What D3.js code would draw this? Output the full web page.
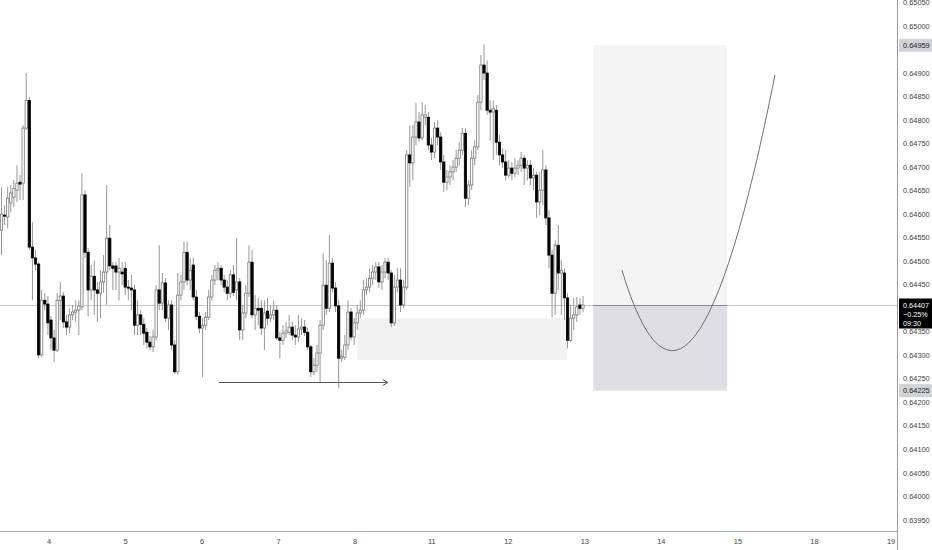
<!DOCTYPE html>
<html><head><meta charset="utf-8">
<script src="https://cdn.jsdelivr.net/npm/d3@7"></script>
<style>body{margin:0;background:#fff}svg{display:block}text{font-family:"Liberation Sans",Arial,sans-serif}</style>
</head><body><svg id="c" width="932" height="550"></svg>
<script>
const dayLabels = ["4","5","6","7","8","11","12","13","14","15","18","19"];
const priceTicks = [0.63950,0.64000,0.64050,0.64100,0.64150,0.64200,0.64250,0.64300,0.64350,0.64400,0.64450,0.64500,0.64550,0.64600,0.64650,0.64700,0.64750,0.64800,0.64850,0.64900,0.64950,0.65000,0.65050];
const opens = [0.64566,0.64598,0.64594,0.64624,0.64636,0.64651,0.64668,0.64666,0.64783,0.64842,0.64530,0.64507,0.64494,0.64301,0.64417,0.64409,0.64375,0.64337,0.64311,0.64417,0.64426,0.64371,0.64360,0.64386,0.64392,0.64396,0.64403,0.64641,0.64519,0.64439,0.64468,0.64439,0.64432,0.64456,0.64477,0.64549,0.64490,0.64490,0.64477,0.64477,0.64485,0.64445,0.64443,0.64439,0.64364,0.64386,0.64366,0.64349,0.64328,0.64318,0.64339,0.64439,0.64411,0.64454,0.64379,0.64407,0.64322,0.64265,0.64428,0.64456,0.64519,0.64460,0.64492,0.64424,0.64383,0.64358,0.64364,0.64381,0.64424,0.64460,0.64481,0.64485,0.64460,0.64445,0.64432,0.64471,0.64439,0.64456,0.64354,0.64390,0.64432,0.64498,0.64386,0.64400,0.64400,0.64358,0.64394,0.64379,0.64386,0.64396,0.64337,0.64332,0.64347,0.64349,0.64360,0.64343,0.64339,0.64356,0.64360,0.64349,0.64318,0.64265,0.64279,0.64305,0.64364,0.64449,0.64400,0.64496,0.64443,0.64405,0.64294,0.64296,0.64322,0.64392,0.64339,0.64369,0.64390,0.64396,0.64439,0.64445,0.64464,0.64477,0.64488,0.64456,0.64477,0.64498,0.64475,0.64369,0.64445,0.64460,0.64407,0.64445,0.64726,0.64709,0.64764,0.64796,0.64762,0.64806,0.64806,0.64747,0.64732,0.64783,0.64764,0.64711,0.64668,0.64679,0.64690,0.64700,0.64719,0.64736,0.64772,0.64634,0.64662,0.64719,0.64743,0.64838,0.64917,0.64900,0.64821,0.64817,0.64821,0.64753,0.64726,0.64711,0.64683,0.64698,0.64687,0.64698,0.64704,0.64719,0.64698,0.64704,0.64677,0.64683,0.64626,0.64651,0.64694,0.64592,0.64513,0.64432,0.64534,0.64475,0.64475,0.64422,0.64332,0.64379,0.64386,0.64407,0.64400];
const highs = [0.64658,0.64619,0.64658,0.64662,0.64672,0.64704,0.64683,0.64789,0.64900,0.64849,0.64583,0.64524,0.64498,0.64439,0.64432,0.64426,0.64383,0.64354,0.64432,0.64456,0.64434,0.64386,0.64400,0.64407,0.64417,0.64417,0.64687,0.64651,0.64528,0.64492,0.64502,0.64456,0.64481,0.64513,0.64662,0.64577,0.64498,0.64498,0.64507,0.64498,0.64498,0.64460,0.64471,0.64449,0.64417,0.64396,0.64379,0.64358,0.64341,0.64354,0.64449,0.64534,0.64475,0.64464,0.64417,0.64417,0.64332,0.64475,0.64471,0.64541,0.64541,0.64507,0.64507,0.64439,0.64392,0.64379,0.64392,0.64439,0.64471,0.64492,0.64498,0.64492,0.64471,0.64460,0.64481,0.64492,0.64549,0.64464,0.64407,0.64449,0.64534,0.64524,0.64428,0.64422,0.64417,0.64417,0.64422,0.64407,0.64417,0.64407,0.64349,0.64364,0.64371,0.64386,0.64371,0.64364,0.64386,0.64379,0.64375,0.64358,0.64322,0.64294,0.64322,0.64375,0.64517,0.64502,0.64556,0.64507,0.64456,0.64417,0.64311,0.64343,0.64417,0.64400,0.64379,0.64407,0.64417,0.64460,0.64464,0.64485,0.64492,0.64498,0.64498,0.64492,0.64507,0.64507,0.64481,0.64471,0.64485,0.64485,0.64460,0.64736,0.64789,0.64789,0.64836,0.64817,0.64838,0.64832,0.64817,0.64762,0.64796,0.64800,0.64774,0.64726,0.64694,0.64704,0.64715,0.64736,0.64753,0.64783,0.64783,0.64672,0.64736,0.64757,0.64853,0.64938,0.64961,0.64927,0.64842,0.64842,0.64832,0.64768,0.64740,0.64736,0.64715,0.64711,0.64719,0.64715,0.64732,0.64726,0.64715,0.64715,0.64698,0.64690,0.64690,0.64736,0.64704,0.64609,0.64524,0.64545,0.64577,0.64502,0.64485,0.64432,0.64407,0.64422,0.64424,0.64422,0.64426];
const lows = [0.64513,0.64577,0.64570,0.64604,0.64615,0.64626,0.64630,0.64630,0.64779,0.64524,0.64417,0.64481,0.64294,0.64296,0.64396,0.64343,0.64311,0.64286,0.64307,0.64375,0.64358,0.64343,0.64347,0.64375,0.64371,0.64343,0.64396,0.64507,0.64383,0.64417,0.64386,0.64371,0.64379,0.64434,0.64407,0.64481,0.64439,0.64439,0.64417,0.64449,0.64428,0.64417,0.64396,0.64343,0.64343,0.64343,0.64322,0.64315,0.64311,0.64307,0.64332,0.64396,0.64396,0.64371,0.64354,0.64311,0.64260,0.64260,0.64417,0.64439,0.64449,0.64439,0.64417,0.64375,0.64347,0.64254,0.64354,0.64375,0.64417,0.64449,0.64460,0.64449,0.64434,0.64417,0.64422,0.64426,0.64417,0.64332,0.64332,0.64379,0.64424,0.64379,0.64354,0.64364,0.64343,0.64311,0.64364,0.64371,0.64375,0.64332,0.64294,0.64322,0.64337,0.64343,0.64332,0.64322,0.64328,0.64343,0.64341,0.64311,0.64254,0.64258,0.64265,0.64241,0.64354,0.64386,0.64392,0.64434,0.64392,0.64230,0.64286,0.64290,0.64311,0.64332,0.64322,0.64354,0.64379,0.64386,0.64428,0.64434,0.64449,0.64460,0.64443,0.64439,0.64464,0.64460,0.64360,0.64362,0.64434,0.64392,0.64400,0.64439,0.64658,0.64672,0.64747,0.64753,0.64757,0.64789,0.64736,0.64715,0.64719,0.64747,0.64694,0.64647,0.64651,0.64662,0.64672,0.64690,0.64704,0.64726,0.64615,0.64619,0.64651,0.64704,0.64736,0.64821,0.64885,0.64811,0.64757,0.64715,0.64726,0.64704,0.64698,0.64672,0.64677,0.64672,0.64679,0.64683,0.64690,0.64662,0.64672,0.64662,0.64651,0.64592,0.64598,0.64619,0.64577,0.64485,0.64381,0.64386,0.64439,0.64386,0.64375,0.64315,0.64328,0.64354,0.64371,0.64386,0.64392];
const closes = [0.64600,0.64596,0.64634,0.64645,0.64655,0.64666,0.64664,0.64783,0.64842,0.64530,0.64507,0.64494,0.64301,0.64417,0.64409,0.64369,0.64337,0.64311,0.64417,0.64426,0.64371,0.64360,0.64386,0.64392,0.64396,0.64405,0.64641,0.64519,0.64439,0.64468,0.64439,0.64432,0.64456,0.64477,0.64549,0.64490,0.64485,0.64477,0.64485,0.64473,0.64445,0.64443,0.64439,0.64364,0.64386,0.64366,0.64347,0.64328,0.64318,0.64339,0.64439,0.64411,0.64454,0.64379,0.64407,0.64322,0.64265,0.64428,0.64456,0.64519,0.64460,0.64481,0.64424,0.64383,0.64358,0.64364,0.64381,0.64424,0.64460,0.64481,0.64485,0.64460,0.64445,0.64432,0.64471,0.64434,0.64456,0.64354,0.64390,0.64432,0.64498,0.64386,0.64400,0.64396,0.64358,0.64390,0.64379,0.64386,0.64396,0.64337,0.64332,0.64347,0.64352,0.64360,0.64343,0.64339,0.64356,0.64360,0.64349,0.64318,0.64265,0.64279,0.64305,0.64364,0.64449,0.64400,0.64496,0.64443,0.64405,0.64294,0.64298,0.64322,0.64392,0.64339,0.64369,0.64390,0.64396,0.64439,0.64445,0.64464,0.64477,0.64488,0.64456,0.64477,0.64498,0.64475,0.64369,0.64445,0.64460,0.64407,0.64445,0.64726,0.64709,0.64764,0.64796,0.64762,0.64811,0.64811,0.64747,0.64732,0.64783,0.64764,0.64711,0.64668,0.64679,0.64690,0.64700,0.64719,0.64736,0.64772,0.64634,0.64662,0.64719,0.64743,0.64838,0.64917,0.64900,0.64821,0.64817,0.64825,0.64753,0.64726,0.64711,0.64683,0.64698,0.64687,0.64698,0.64704,0.64719,0.64698,0.64704,0.64677,0.64683,0.64626,0.64651,0.64694,0.64592,0.64513,0.64432,0.64534,0.64475,0.64481,0.64422,0.64332,0.64379,0.64386,0.64403,0.64400,0.64407];
const lastPrice = 0.64407, lastChange = "\u22120.25%", countdown = "09:30";
const targetPrice = 0.64959, stopPrice = 0.64225;
const boxDays = [7.11, 8.86];
const zoneBars = [115, 182.8], zonePrices = [0.64379, 0.64290];
const arrowBars = [70.3, 124.9], arrowPrice = 0.64243;
const curveDays = [7.485, 8.387, 9.484], curvePrices = [0.64481, 0.63993, 0.64896];

const W = 932, H = 550, axisX = 897.5, axisY = 531.5;
const svg = d3.select("#c");
const y = d3.scaleLinear().domain([0.6395, 0.65]).range([520, 26]);
const xd = d3.scaleLinear().domain([0, 11]).range([49, 891]);
const N = opens.length;
const xb = d3.scaleLinear().domain([0, N - 1]).range([1.5, 583]);

const plot = svg.append("g");
plot.append("defs").append("clipPath").attr("id","pc").append("rect").attr("x",0).attr("y",0).attr("width",axisX).attr("height",axisY);
const g = plot.append("g").attr("clip-path","url(#pc)");

g.append("rect").attr("x", xb(zoneBars[0])).attr("width", xb(zoneBars[1]) - xb(zoneBars[0]))
  .attr("y", y(zonePrices[0])).attr("height", y(zonePrices[1]) - y(zonePrices[0])).attr("fill", "#f2f2f2");
g.append("rect").attr("x", xd(boxDays[0])).attr("width", xd(boxDays[1]) - xd(boxDays[0]))
  .attr("y", y(targetPrice)).attr("height", y(lastPrice) - y(targetPrice)).attr("fill", "#f4f4f5");
g.append("rect").attr("x", xd(boxDays[0])).attr("width", xd(boxDays[1]) - xd(boxDays[0]))
  .attr("y", y(lastPrice)).attr("height", y(stopPrice) - y(lastPrice)).attr("fill", "#dfdfe3");
g.append("line").attr("x1", 0).attr("x2", axisX).attr("y1", Math.round(y(lastPrice)) + 0.5).attr("y2", Math.round(y(lastPrice)) + 0.5)
  .attr("stroke", "#cacaca").attr("stroke-width", 1);
g.append("line").attr("x1", xd(boxDays[0])).attr("x2", xd(boxDays[1])).attr("y1", Math.round(y(lastPrice)) + 0.5).attr("y2", Math.round(y(lastPrice)) + 0.5)
  .attr("stroke", "#8a8a8e").attr("stroke-width", 1);

const bars = d3.range(N).map(i => ({i, o: opens[i], h: highs[i], l: lows[i], c: closes[i]}));
const cg = g.append("g");
cg.selectAll("line.w").data(bars).join("line").attr("class","w")
  .attr("x1", d => xb(d.i)).attr("x2", d => xb(d.i))
  .attr("y1", d => y(d.h)).attr("y2", d => y(d.l))
  .attr("stroke", "#8c8c8c").attr("stroke-width", 0.9);
const bw = 2.3;
cg.selectAll("rect.b").data(bars).join("rect").attr("class","b")
  .attr("x", d => xb(d.i) - bw / 2).attr("width", bw)
  .attr("y", d => y(Math.max(d.o, d.c)))
  .attr("height", d => Math.max(1, Math.abs(y(d.o) - y(d.c))))
  .attr("fill", d => d.c >= d.o ? "#ffffff" : "#000000")
  .attr("stroke", d => d.c >= d.o ? "#7a7a7a" : "#000000")
  .attr("stroke-width", 0.8);

const p = d3.path();
p.moveTo(xd(curveDays[0]), y(curvePrices[0]));
p.quadraticCurveTo(xd(curveDays[1]), y(curvePrices[1]), xd(curveDays[2]), y(curvePrices[2]));
g.append("path").attr("d", p.toString()).attr("fill", "none").attr("stroke", "#707070").attr("stroke-width", 1);

const ay = Math.round(y(arrowPrice)) + 0.5, ax1 = xb(arrowBars[0]), ax2 = xb(arrowBars[1]);
g.append("line").attr("x1", ax1).attr("x2", ax2).attr("y1", ay).attr("y2", ay).attr("stroke", "#555").attr("stroke-width", 1);
g.append("path").attr("d", `M${ax2 - 5},${ay - 3}L${ax2},${ay}L${ax2 - 5},${ay + 3}`).attr("fill", "none").attr("stroke", "#555").attr("stroke-width", 1);

svg.append("line").attr("x1", axisX).attr("x2", axisX).attr("y1", 0).attr("y2", H).attr("stroke", "#9a9a9a");
svg.append("line").attr("x1", 0).attr("x2", axisX).attr("y1", axisY).attr("y2", axisY).attr("stroke", "#a8a8a8");

const fmt = d3.format(".5f");
const ly = y(lastPrice);
const tagSpans = [[y(targetPrice) - 6.5, y(targetPrice) + 6.5], [y(stopPrice) - 6.5, y(stopPrice) + 6.5], [ly - 6.5, ly + 23.5]];
const visibleTicks = priceTicks.filter(t => !tagSpans.some(([a, b]) => y(t) > a - 3 && y(t) < b + 3));
const pl = svg.append("g").attr("font-size", "7.4px").attr("fill", "#444");
pl.selectAll("text").data(visibleTicks).join("text")
  .attr("x", 903).attr("y", d => y(d)).attr("dy", "0.35em").text(d => fmt(d));

svg.append("g").attr("font-size", "7.4px").attr("fill", "#444").selectAll("text").data(dayLabels).join("text")
  .attr("x", (d, i) => xd(i)).attr("y", 541).attr("dy", "0.35em").attr("text-anchor", "middle").text(d => d);

function tag(price, bg, fg) {
  const yy = y(price);
  svg.append("rect").attr("x", 899).attr("y", yy - 6.5).attr("width", 33).attr("height", 13).attr("fill", bg);
  svg.append("text").attr("x", 903).attr("y", yy).attr("dy", "0.35em").attr("font-size", "7.4px").attr("fill", fg).text(fmt(price));
}
tag(targetPrice, "#d1d3d9", "#222");
tag(stopPrice, "#d1d3d9", "#222");
svg.append("rect").attr("x", 899).attr("y", ly - 6.5).attr("width", 33).attr("height", 30).attr("fill", "#000");
svg.append("text").attr("x", 903).attr("y", ly).attr("dy", "0.35em").attr("font-size", "7.2px").attr("fill", "#fff").text(fmt(lastPrice));
svg.append("text").attr("x", 903).attr("y", ly + 9.3).attr("dy", "0.35em").attr("font-size", "7.2px").attr("fill", "#fff").text(lastChange);
svg.append("text").attr("x", 903).attr("y", ly + 18.6).attr("dy", "0.35em").attr("font-size", "7.2px").attr("fill", "#fff").text(countdown);
</script></body></html>
